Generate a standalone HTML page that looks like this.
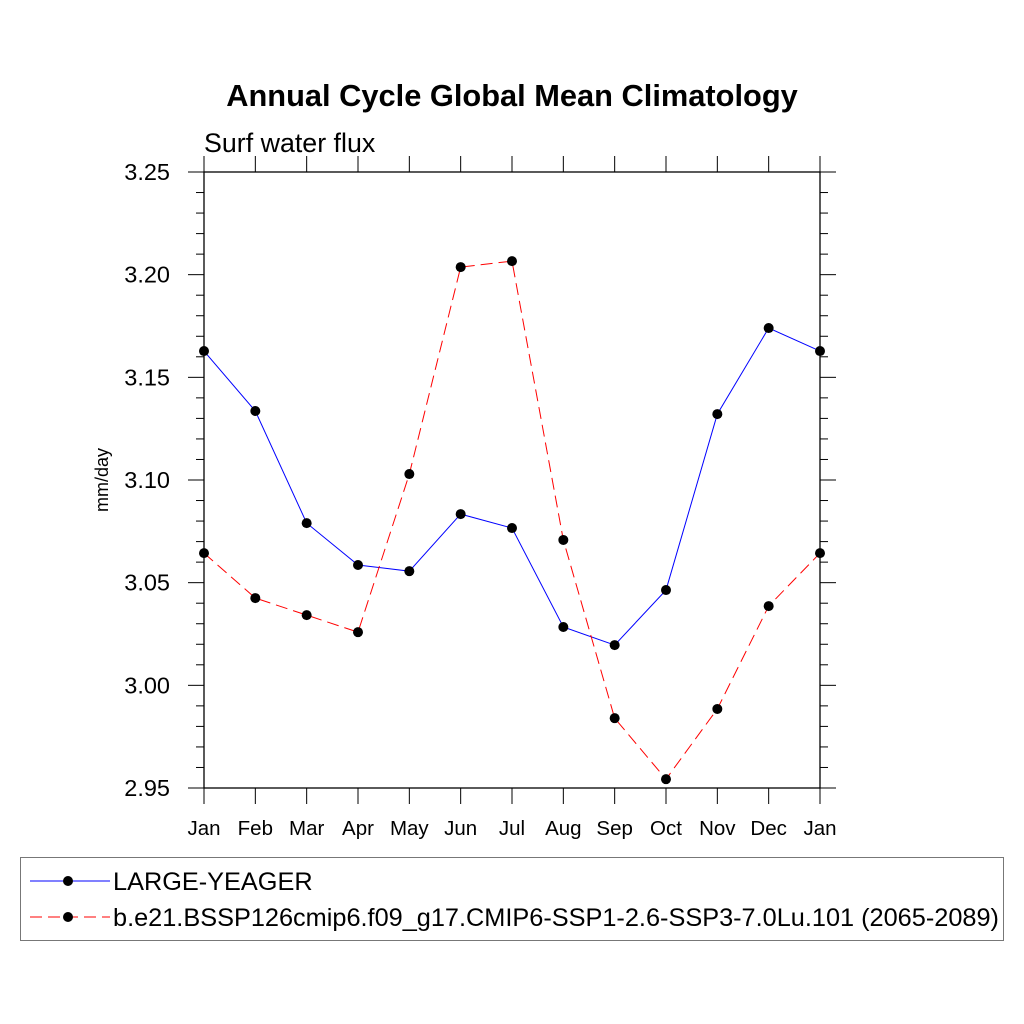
<!DOCTYPE html>
<html><head><meta charset="utf-8"><style>body{margin:0;background:#fff}svg{display:block}text{font-family:"Liberation Sans",sans-serif}</style></head>
<body>
<svg width="1024" height="1024">
<text x="512" y="106" text-anchor="middle" font-size="30.8" font-weight="bold">Annual Cycle Global Mean Climatology</text>
<text x="204" y="152" font-size="26.8">Surf water flux</text>
<text transform="translate(108,480) rotate(-90)" text-anchor="middle" font-size="18">mm/day</text>
<g id="axes"></g>
<g id="series"></g>
<rect x="20.5" y="857.5" width="983" height="83" fill="none" stroke="#777"/>
<g>
<line x1="30" y1="881" x2="110" y2="881" stroke="#00f" stroke-width="1"/><circle cx="68" cy="881" r="5" fill="#000"/>
<text x="113" y="890" font-size="25.3">LARGE-YEAGER</text></g>
<g>
<line x1="30" y1="917" x2="110" y2="917" stroke="#f00" stroke-dasharray="12,6"/><circle cx="68" cy="917" r="5" fill="#000"/>
<text x="113" y="926" font-size="25.3">b.e21.BSSP126cmip6.f09_g17.CMIP6-SSP1-2.6-SSP3-7.0Lu.101 (2065-2089)</text></g>
</svg>
<script>
const months=["Jan","Feb","Mar","Apr","May","Jun","Jul","Aug","Sep","Oct","Nov","Dec","Jan"];
const yTicks=[2.95,3.00,3.05,3.10,3.15,3.20,3.25];
const yTickLabels=["2.95","3.00","3.05","3.10","3.15","3.20","3.25"];
const largeYeager=[3.1628,3.1336,3.079,3.0586,3.0556,3.0834,3.0766,3.0284,3.0196,3.0464,3.1321,3.174,3.1628];
const sspRun=[3.0644,3.0425,3.0342,3.0259,3.1029,3.2037,3.2066,3.0708,2.984,2.9543,2.9885,3.0386,3.0644];
const X0=204,X1=820,Y0=172,Y1=788,yMin=2.95,yMax=3.25;
const xs=i=>X0+(X1-X0)*i/(months.length-1);
const ys=v=>Y1-(v-yMin)/(yMax-yMin)*(Y1-Y0);
const NS="http://www.w3.org/2000/svg";
function mk(t,a,p){const e=document.createElementNS(NS,t);for(const k in a)e.setAttribute(k,a[k]);p.appendChild(e);return e;}
const ax=document.getElementById('axes');
const box=mk('rect',{x:X0,y:Y0,width:X1-X0,height:Y1-Y0,fill:'none',stroke:'#000','stroke-width':1.3},ax);


for(let v=yMin;v<=yMax+1e-9;v+=0.01){
  const y=ys(v);const maj=Math.abs(Math.round(v*100)%5)===0;const L=maj?16:8;
  mk('line',{x1:X0-L,y1:y,x2:X0,y2:y,stroke:'#000'},ax);
  mk('line',{x1:X1,y1:y,x2:X1+L,y2:y,stroke:'#000'},ax);
}
yTicks.forEach((v,i)=>{
  const t=mk('text',{x:X0-34,y:ys(v)+8,'text-anchor':'end','font-size':23.5},ax);t.textContent=yTickLabels[i];
  
  
});
months.forEach((m,i)=>{
  const x=xs(i);
  mk('line',{x1:x,y1:Y1,x2:x,y2:Y1+16,stroke:'#000'},ax);
  mk('line',{x1:x,y1:Y0-16,x2:x,y2:Y0,stroke:'#000'},ax);
  const t=mk('text',{x:x,y:Y1+47,'text-anchor':'middle','font-size':20.5},ax);t.textContent=m;
  
  
});
const sg=document.getElementById('series');
function draw(vals,color,dash,name){
  const g=mk('g',{},sg);
  
  
  mk('polyline',{points:vals.map((v,i)=>xs(i)+','+ys(v)).join(' '),fill:'none',stroke:color,'stroke-width':1,'stroke-dasharray':dash},g);
  vals.forEach((v,i)=>{const c=mk('circle',{cx:xs(i),cy:ys(v),r:5,fill:'#000'},g);
    
    });
}
draw(largeYeager,'#00f','none','series-large-yeager');
draw(sspRun,'#f00','12,6','series-ssp');
</script>
</body></html>
